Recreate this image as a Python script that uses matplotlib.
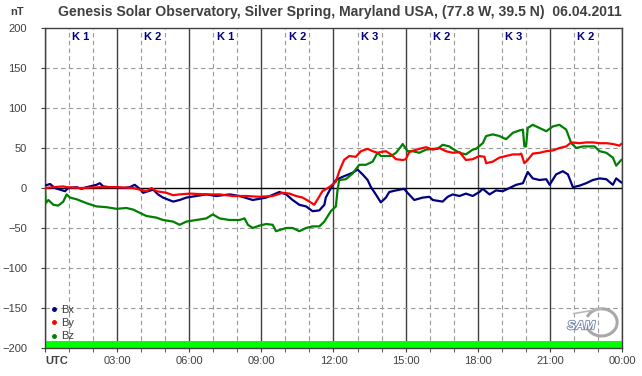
import matplotlib
matplotlib.use("Agg")
from matplotlib import pyplot as plt
from matplotlib.lines import Line2D
from matplotlib.patches import Arc
import matplotlib.patheffects as pe

plt.rcParams['font.family'] = ['Liberation Sans', 'DejaVu Sans']

# hours UTC / nT
bx_t = [0, 0.21, 0.41, 0.62, 0.83, 0.97, 1.31, 1.52, 1.73, 2.14, 2.28, 2.42, 2.70, 2.97, 3.25, 3.53,
        3.73, 3.94, 4.08, 4.50, 4.70, 4.91, 5.33, 5.60, 5.88, 6.29, 6.71, 7.12, 7.68, 8.09, 8.64, 9.20,
        9.75, 10.03, 10.30, 10.58, 10.86, 11.13, 11.41, 11.62, 11.68, 11.82, 12.10, 12.38, 12.79, 13.00,
        13.21, 13.42, 13.56, 13.76, 13.97, 14.18, 14.32, 14.60, 14.94, 15.08, 15.36, 15.71, 15.99, 16.13,
        16.54, 16.75, 16.96, 17.24, 17.51, 17.79, 18.07, 18.21, 18.49, 18.76, 19.04, 19.32, 19.60, 19.88,
        20.08, 20.29, 20.57, 20.85, 20.99, 21.26, 21.54, 21.75, 21.96, 22.24, 22.51, 22.79, 23.07, 23.35,
        23.62, 23.76, 23.97]
bx = [3, 5, 0, -2, -4, 0, 1, -1, 1, 4, 6, 2, 1, 1, 0, 1,
      4, -1, -6, -2, -8, -12, -17, -15, -12, -10, -8, -10, -8, -10, -15, -12,
      -5, -8, -15, -21, -23, -29, -28, -21, -12, -4, 10, 14, 19, 23,
      17, 10, 1, -8, -18, -12, -5, -3, -1, -6, -15, -12, -11, -15,
      -17, -11, -8, -10, -7, -10, -5, -1, -8, -3, -4, 0, 4, 6,
      20, 12, 10, 11, 4, 17, 21, 17, 1, 3, 6, 10, 12, 11,
      4, 12, 7]

by_t = [0, 0.35, 0.76, 0.90, 1.45, 2.28, 2.97, 3.67, 3.94, 4.22, 4.43, 4.63, 5.05, 5.33, 5.60, 6.02,
        6.71, 7.26, 7.81, 8.37, 8.92, 9.47, 9.89, 10.17, 10.44, 10.72, 11.00, 11.20, 11.54, 11.82,
        12.10, 12.24, 12.44, 12.65, 12.93, 13.14, 13.42, 13.63, 13.83, 13.97, 14.18, 14.39, 14.60, 14.88,
        15.01, 15.15, 15.57, 15.85, 16.13, 16.40, 16.68, 16.96, 17.24, 17.51, 17.79, 18.07, 18.28, 18.35,
        18.63, 18.90, 19.18, 19.46, 19.74, 19.81, 19.94, 20.08, 20.29, 20.57, 20.85, 21.13, 21.40, 21.68,
        21.89, 22.24, 22.51, 22.79, 23.07, 23.35, 23.62, 23.90, 23.97]
by = [0, 1, 2, 1, 0, 1, 1, 0, -2, -4, 0, -4, -6, -9, -8, -7,
      -8, -8, -10, -10, -11, -10, -6, -7, -10, -12, -17, -21, -4, 1,
      8, 21, 35, 40, 39, 46, 49, 46, 44, 45, 46, 42, 36, 35,
      36, 45, 49, 51, 48, 50, 46, 44, 45, 35, 36, 40, 39, 31,
      33, 38, 40, 42, 42, 43, 31, 35, 43, 44, 46, 47, 50, 52,
      57, 56, 57, 57, 56, 56, 55, 53, 55]

bz_t = [0, 0.03, 0.14, 0.35, 0.55, 0.76, 0.90, 1.04, 1.31, 1.73, 2.14, 2.56, 2.97, 3.39, 3.67, 3.94,
        4.22, 4.63, 4.91, 5.33, 5.60, 5.88, 6.29, 6.71, 6.98, 7.26, 7.68, 8.09, 8.30, 8.44, 8.64, 8.92,
        9.20, 9.47, 9.61, 10.03, 10.30, 10.58, 10.86, 11.13, 11.41, 11.62, 11.68, 11.89, 12.10, 12.17,
        12.24, 12.51, 12.79, 13.07, 13.35, 13.63, 13.83, 13.97, 14.18, 14.39, 14.60, 14.81, 14.88, 15.08,
        15.29, 15.57, 15.85, 16.13, 16.33, 16.54, 16.82, 16.96, 17.24, 17.51, 17.79, 17.93, 18.21, 18.35,
        18.63, 18.90, 19.18, 19.46, 19.74, 19.88, 19.94, 20.01, 20.08, 20.29, 20.57, 20.85, 21.13, 21.40,
        21.68, 21.89, 22.10, 22.38, 22.65, 22.86, 23.07, 23.35, 23.62, 23.76, 23.97]
bz = [1, -19, -15, -21, -22, -17, -8, -12, -14, -19, -23, -24, -26, -25, -27, -31,
      -35, -37, -40, -42, -46, -42, -40, -38, -33, -38, -40, -40, -38, -46, -50, -47,
      -45, -46, -54, -50, -50, -54, -50, -48, -48, -42, -39, -29, -23, -2,
      10, 11, 18, 29, 29, 33, 44, 40, 40, 40, 44, 52, 55, 46,
      46, 44, 48, 49, 49, 54, 52, 49, 44, 42, 48, 49, 56, 65,
      67, 65, 61, 69, 72, 73, 52, 52, 75, 79, 75, 71, 77, 79,
      73, 56, 50, 52, 52, 52, 46, 44, 38, 28, 35]

k_index = [1, 2, 1, 2, 3, 2, 3, 2]
hour_labels = ["", "03:00", "06:00", "09:00", "12:00", "15:00", "18:00", "21:00", "00:00"]

txt = "#404040"
fig = plt.figure(figsize=(6.42, 3.76), dpi=100)
ax = fig.add_axes([0.0701, 0.0745, 0.8987, 0.851])

# grid
for h in range(25):
    if h % 3 == 0:
        ax.axvline(h, color="#404040", lw=1.0, zorder=1)
    else:
        ax.axvline(h, color="#999999", lw=0.8, ls=(0, (4, 3)), zorder=1)
for v in range(-150, 200, 50):
    if v == 0:
        ax.axhline(v, color="black", lw=1.0, zorder=1)
    else:
        ax.axhline(v, color="#999999", lw=0.8, ls=(0, (4, 3)), zorder=1)

ax.axhspan(-200, -191.5, color="#00ff00", lw=0, zorder=2)

ax.plot(bx_t, bx, color="#000080", lw=1.6, zorder=3)
ax.plot(by_t, by, color="#ff0000", lw=1.6, zorder=4)
ax.plot(bz_t, bz, color="#008000", lw=1.6, zorder=3)

for i, k in enumerate(k_index):
    ax.text(3 * i + 1.5, 189, "K %d" % k, ha="center", va="center", fontsize=8,
            fontweight="bold", color="#000080", zorder=5)

ax.set_xlim(0, 24)
ax.set_ylim(-200, 200)
ax.set_xticks(range(0, 25, 3))
ax.set_xticklabels(hour_labels)
ax.set_xticks(range(25), minor=True)
ax.set_yticks(range(-200, 201, 50))
ax.tick_params(axis="both", which="both", direction="out", length=3, color="#404040",
               labelsize=8, labelcolor=txt)
ax.tick_params(axis="y", pad=10)
ax.tick_params(axis="x", pad=3)
for s in ax.spines.values():
    s.set_color("#404040")
    s.set_linewidth(1.0)

ax.text(0, -0.026, "UTC", transform=ax.get_xaxis_transform(), ha="left", va="top",
        fontsize=8, fontweight="bold", color=txt)
fig.text(10 / 642, 1 - 12 / 376, "nT", ha="left", va="center", fontsize=8,
         fontweight="bold", color=txt)
title = fig.text(340 / 642, 1 - 12 / 376,
                 "Genesis Solar Observatory, Silver Spring, Maryland USA, (77.8 W, 39.5 N)  06.04.2011",
                 ha="center", va="center", fontsize=10, fontweight="bold", color=txt)
# shrink the title to the width it has in the original (about 565 px)
r = fig.canvas.get_renderer()
w = title.get_window_extent(r).width
title.set_fontsize(10 * 565 / w)

handles = [Line2D([], [], marker="o", ms=2.5, ls="none", color=c)
           for c in ["#000080", "#ff0000", "#008000"]]
ax.legend(handles, ["Bx", "By", "Bz"], loc="lower left", bbox_to_anchor=(-0.003, -0.004),
          frameon=False, fontsize=8, handlelength=0.6, handletextpad=0.3,
          labelspacing=0.28, borderpad=0.2, labelcolor=txt)

# SAM logo, roughly
ax.add_patch(Arc((23.15, -168), 1.3, 34, theta1=-95, theta2=95, color="#a8a8a8",
                 lw=2.2, zorder=5))
ax.plot([22.0, 23.15], [-157, -151], color="#b8b8b8", lw=1.2, zorder=5)
ax.text(22.3, -173, "SAM", ha="center", va="center", fontsize=9, fontstyle="italic",
        fontweight="bold", color="white", zorder=6,
        path_effects=[pe.withStroke(linewidth=1.2, foreground="#7080a8")])

fig.savefig("out.png", dpi=100)
